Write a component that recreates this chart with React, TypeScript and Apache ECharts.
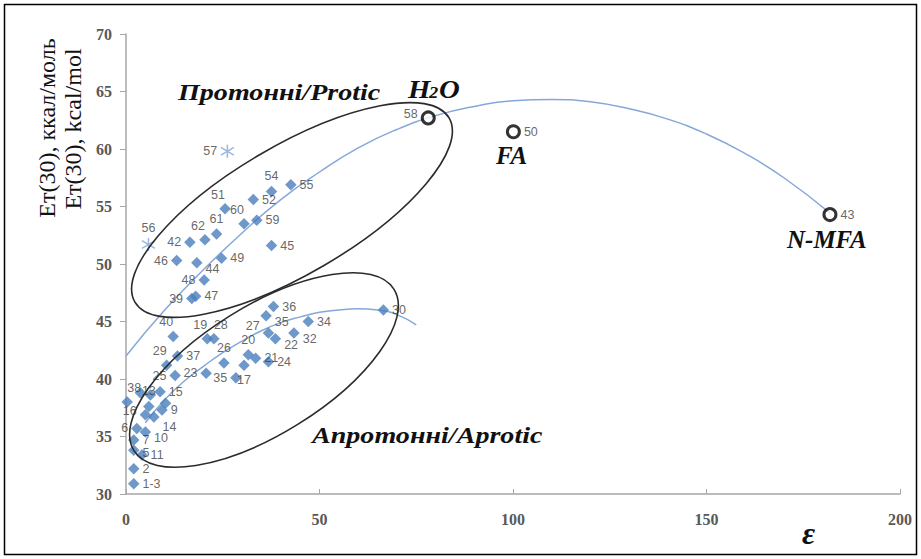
import React, { useEffect, useRef } from 'react';
import * as echarts from 'echarts';

// ---- data ----
const xTicks = [0, 50, 100, 150, 200];
const yTicks = [30, 35, 40, 45, 50, 55, 60, 65, 70];

const proticX = [42.6, 37.6, 32.9, 25.6, 30.5, 33.8, 37.6, 23.4, 20.4, 16.5, 13.1, 18.3, 24.7, 20.2, 17.0, 18.0];
const proticY = [56.9, 56.3, 55.6, 54.8, 53.5, 53.8, 51.6, 52.6, 52.1, 51.9, 50.3, 50.1, 50.5, 48.6, 47.0, 47.2];
const proticLabels = ['55', '54', '52', '51', '60', '59', '45', '61', '62', '42', '46', '44', '49', '48', '39', '47'];
const proticLabelPos = ['right', 'top', 'right', 'topleft', 'topleft', 'right', 'right', 'top', 'topleft', 'left', 'left', 'bottomright', 'right', 'left', 'left', 'right'];

const aproticX = [38.1, 36.2, 66.5, 47.1, 43.4, 36.8, 38.6, 12.2, 21.0, 22.7, 13.3, 25.3, 31.6, 33.5, 36.8, 30.5, 28.4, 20.7, 10.5, 12.7, 8.8, 0.3, 3.7, 6.3, 10.2, 5.9, 9.3, 5.0, 7.2, 2.8, 5.0, 2.0, 2.0, 4.1, 2.0, 2.0];
const aproticY = [46.3, 45.5, 46.0, 45.0, 44.0, 44.0, 43.5, 43.7, 43.5, 43.5, 42.0, 41.4, 42.1, 41.8, 41.5, 41.2, 40.1, 40.5, 41.2, 40.3, 38.9, 38.0, 38.8, 38.6, 37.9, 37.6, 37.3, 36.9, 36.7, 35.7, 35.4, 34.7, 33.8, 33.4, 32.2, 30.9];
const aproticLabels = ['36', '35', '30', '34', '32', '27', '22', '40', '19', '28', '37', '26', '20', '21', '24', '17', '35', '23', '29', '25', '15', '38', '', '', '', '13', '9', '16', '14', '6', '10', '7', '5', '11', '2', '1-3'];
const aproticLabelPos = ['right', 'bottomright', 'right', 'right', 'bottomright', 'leftup2', 'bottomright', 'topleft', 'topleft', 'topright', 'right', 'top', 'top', 'right', 'right', 'bottom', 'left', 'left', 'topleft', 'left', 'right', 'topright', 'right', 'right', 'right', 'top', 'right', 'leftup', 'lowright', 'left', 'bottomright', 'right', 'rightdown', 'right', 'right', 'right'];

const waterLikeX = [78.1, 100.1, 181.9];
const waterLikeY = [62.7, 61.5, 54.3];
const waterLikeLabels = ['58', '50', '43'];
const waterLikePos = ['leftup', 'right', 'right'];

const starX = [5.8, 26.2];
const starY = [51.7, 59.8];
const starLabels = ['56', '57'];
const starPos = ['top', 'left'];

const upperTrendX = [0, 10, 20, 30, 40, 50, 60, 70, 80, 90, 100, 110, 120, 130, 140, 150, 160, 170, 182];
const upperTrendY = [42.0, 46.0, 49.5, 52.7, 55.6, 58.0, 60.1, 61.7, 62.9, 63.7, 64.2, 64.3, 64.1, 63.5, 62.6, 61.3, 59.6, 57.5, 54.4];

const lowerTrendX = [5, 10, 15, 20, 25, 30, 35, 40, 45, 50, 55, 60, 65, 70, 75];
const lowerTrendY = [36.2, 38.2, 39.8, 41.1, 42.3, 43.3, 44.2, 44.9, 45.4, 45.8, 46.0, 46.1, 46.0, 45.6, 44.7];

// ---- styles ----
const LABEL_COLOR = '#404040';
const DIAMOND = '#4A7EBB';
const TREND = '#86A8D8';
const SERIF = '"Liberation Serif", "Times New Roman", serif';
const SANS = '"Liberation Sans", Arial, sans-serif';

function placement(p: string) {
  switch (p) {
    case 'topleft': return { position: 'top', offset: [-7, 1] };
    case 'topright': return { position: 'top', offset: [7, 1] };
    case 'bottomright': return { position: 'right', offset: [0, 6] };
    case 'lowright': return { position: 'right', offset: [0, 10] };
    case 'rightdown': return { position: 'right', offset: [0, 3] };
    case 'leftup': return { position: 'left', offset: [0, -4] };
    case 'leftup2': return { position: 'left', offset: [0, -7] };
    default: return { position: p, offset: [0, 0] };
  }
}

function pts(xs: number[], ys: number[], labels: string[], pos: string[]) {
  return xs.map((x, i) => ({
    value: [x, ys[i]],
    label: {
      show: labels[i] !== '',
      formatter: labels[i],
      ...placement(pos[i]),
      distance: 3,
      color: LABEL_COLOR,
      fontSize: 12.5,
      fontFamily: SANS,
    },
  }));
}

function annot(text: string, x: number, y: number, size: number, sx = 1) {
  return {
    type: 'text',
    x,
    y,
    scaleX: sx,
    style: {
      text,
      font: `italic bold ${size}px ${SERIF}`,
      fill: '#111',
      textAlign: 'left',
      textVerticalAlign: 'top',
      align: 'left',
      verticalAlign: 'top',
    },
  };
}

export default function App() {
  const ref = useRef<HTMLDivElement>(null);
  useEffect(() => {
    if (!ref.current) return;
    const chart = echarts.init(ref.current, null, { renderer: 'svg' });
    const deg = Math.PI / 180;
    chart.setOption({
      animation: false,
      backgroundColor: '#fff',
      grid: { left: 126, right: 21, top: 34, bottom: 65 },
      xAxis: {
        type: 'value',
        min: xTicks[0],
        max: xTicks[xTicks.length - 1],
        interval: 50,
        splitLine: { show: false },
        axisLine: { lineStyle: { color: '#A6A6A6', width: 1.5 } },
        axisTick: { show: true, inside: true, length: 5, lineStyle: { color: '#A6A6A6' } },
        axisLabel: { color: '#595959', fontSize: 16, fontWeight: 'bold', fontFamily: SERIF, margin: 17 },
      },
      yAxis: {
        type: 'value',
        min: yTicks[0],
        max: yTicks[yTicks.length - 1],
        interval: 5,
        splitLine: { show: false },
        axisLine: { show: true, lineStyle: { color: '#A6A6A6', width: 1.5 } },
        axisTick: { show: true, length: 6, lineStyle: { color: '#A6A6A6' } },
        axisLabel: { color: '#595959', fontSize: 16, fontWeight: 'bold', fontFamily: SERIF, margin: 14 },
      },
      series: [
        {
          type: 'line',
          data: upperTrendX.map((x, i) => [x, upperTrendY[i]]),
          smooth: true,
          showSymbol: false,
          lineStyle: { color: TREND, width: 1.5 },
          z: 1,
        },
        {
          type: 'line',
          data: lowerTrendX.map((x, i) => [x, lowerTrendY[i]]),
          smooth: true,
          showSymbol: false,
          lineStyle: { color: TREND, width: 1.5 },
          z: 1,
        },
        {
          type: 'scatter',
          symbol: 'diamond',
          symbolSize: 11.5,
          itemStyle: { color: DIAMOND },
          data: pts(proticX, proticY, proticLabels, proticLabelPos),
          z: 3,
        },
        {
          type: 'scatter',
          symbol: 'diamond',
          symbolSize: 11.5,
          itemStyle: { color: DIAMOND },
          data: pts(aproticX, aproticY, aproticLabels, aproticLabelPos),
          z: 3,
        },
        {
          type: 'scatter',
          symbol: 'circle',
          symbolSize: 12,
          itemStyle: { color: '#fff', borderColor: '#000', borderWidth: 3 },
          data: pts(waterLikeX, waterLikeY, waterLikeLabels, waterLikePos),
          z: 4,
        },
        {
          type: 'scatter',
          symbol: 'path://M5,0L5,10M0,2L10,8M10,2L0,8',
          symbolSize: 13,
          itemStyle: { color: 'rgba(0,0,0,0)', borderColor: '#7FA6D8', borderWidth: 1.5 },
          data: pts(starX, starY, starLabels, starPos),
          z: 4,
        },
      ],
      graphic: [
        {
          type: 'rect',
          shape: { x: 4.5, y: 4.5, width: 912, height: 550 },
          style: { fill: 'none', stroke: '#000', lineWidth: 1.5 },
          silent: true,
        },
        {
          type: 'ellipse',
          x: 292, y: 210,
          rotation: 30.4 * deg,
          shape: { cx: 0, cy: 0, rx: 182, ry: 64 },
          style: { fill: 'none', stroke: '#2b2b2b', lineWidth: 1.6 },
          z: 10,
        },
        {
          type: 'ellipse',
          x: 264, y: 370,
          rotation: 31.8 * deg,
          shape: { cx: 0, cy: 0, rx: 153, ry: 64 },
          style: { fill: 'none', stroke: '#2b2b2b', lineWidth: 1.6 },
          z: 10,
        },
        {
          type: 'text',
          x: 47, y: 128,
          rotation: Math.PI / 2,
          style: {
            text: 'Eт(30), ккал/моль',
            font: `24px ${SERIF}`,
            fill: '#111',
            textAlign: 'center', textVerticalAlign: 'middle',
            align: 'center', verticalAlign: 'middle',
          },
        },
        {
          type: 'text',
          x: 73, y: 129,
          rotation: Math.PI / 2,
          style: {
            text: 'Eт(30), kcal/mol',
            font: `24px ${SERIF}`,
            fill: '#111',
            textAlign: 'center', textVerticalAlign: 'middle',
            align: 'center', verticalAlign: 'middle',
          },
        },
        annot('Протонні/Protic', 178, 80, 24, 1.17),
        annot('H', 408, 77, 25, 1.15),
        annot('2', 429, 85, 16, 1.15),
        annot('O', 439, 77, 25, 1.15),
        annot('FA', 496, 143, 25),
        annot('N-MFA', 787, 227, 25),
        annot('Апротонні/Aprotic', 312, 423, 24, 1.17),
        annot('ε', 802, 517, 32),
      ],
    });
    return () => chart.dispose();
  }, []);
  return (
    <div
      ref={ref}
      style={{ position: 'fixed', left: 0, top: 0, width: 921, height: 559 }}
    />
  );
}
